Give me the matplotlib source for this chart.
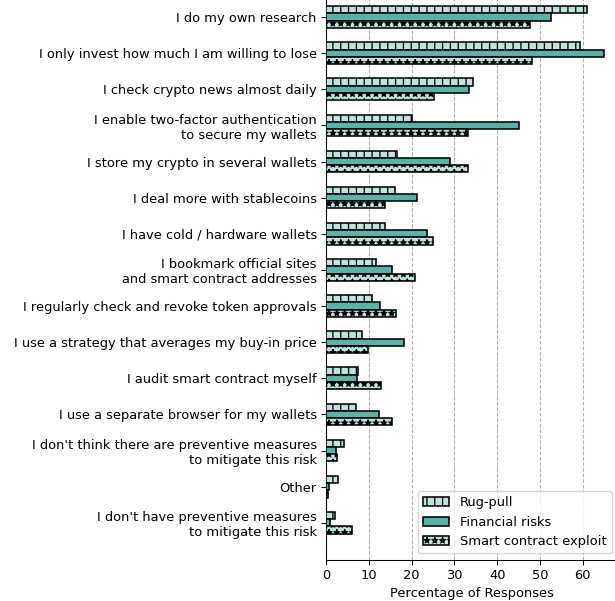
import matplotlib
matplotlib.use("Agg")
import matplotlib.pyplot as plt
from matplotlib.ticker import MultipleLocator
import numpy as np

## Données

categories = [
    "I do my own research",
    "I only invest how much I am willing to lose",
    "I check crypto news almost daily",
    "I enable two-factor authentication\nto secure my wallets",
    "I store my crypto in several wallets",
    "I deal more with stablecoins",
    "I have cold / hardware wallets",
    "I bookmark official sites\nand smart contract addresses",
    "I regularly check and revoke token approvals",
    "I use a strategy that averages my buy-in price",
    "I audit smart contract myself",
    "I use a separate browser for my wallets",
    "I don't think there are preventive measures\nto mitigate this risk",
    "Other",
    "I don't have preventive measures\nto mitigate this risk",
]
rugPull = [60.9, 59.4, 34.3, 20.1, 16.6, 16.1, 13.9, 11.7, 10.8, 8.4, 7.4, 7.0, 4.3, 2.8, 2.1]
financial = [52.5, 65.0, 33.5, 45.2, 29.0, 21.3, 23.5, 15.5, 12.7, 18.3, 7.2, 12.4, 2.3, 0.7, 0.9]
smartContract = [47.7, 48.1, 25.3, 33.2, 33.2, 13.8, 24.9, 20.8, 16.4, 9.9, 12.9, 15.4, 2.5, 0.4, 6.0]

series = [("Rug-pull", rugPull, "#bfe3dd", "||"),
          ("Financial risks", financial, "#5ab2a6", None),
          ("Smart contract exploit", smartContract, "#bfe3dd", "**")]

hauteur = 0.2
dpi = 94
plt.rcParams["hatch.linewidth"] = 1.0

fig, ax = plt.subplots(figsize=(615 / dpi, 601 / dpi), dpi=dpi)
y = np.arange(len(categories))

for i, (nom, vals, couleur, motif) in enumerate(series):
    ax.barh(y + (i - 1) * hauteur, vals, height=hauteur, color=couleur,
            edgecolor="black", linewidth=1.2, hatch=motif, label=nom, zorder=3)

ax.set_yticks(y)
ax.set_yticklabels(categories, fontsize=10)
ax.invert_yaxis()
ax.xaxis.set_major_locator(MultipleLocator(10))
ax.tick_params(axis="x", labelsize=10)
ax.set_xlabel("Percentage of Responses", fontsize=10)
ax.xaxis.grid(True, linestyle="--", color="gray", alpha=0.6, zorder=0)
ax.spines["top"].set_visible(False)
ax.spines["right"].set_visible(False)
ax.legend(loc="lower right", fontsize=10)

# la figure d'origine est rognée en haut et à droite
fig.subplots_adjust(left=0.530, right=1.005, top=1.0336, bottom=0.0682)
fig.savefig("out.png", dpi=dpi)
